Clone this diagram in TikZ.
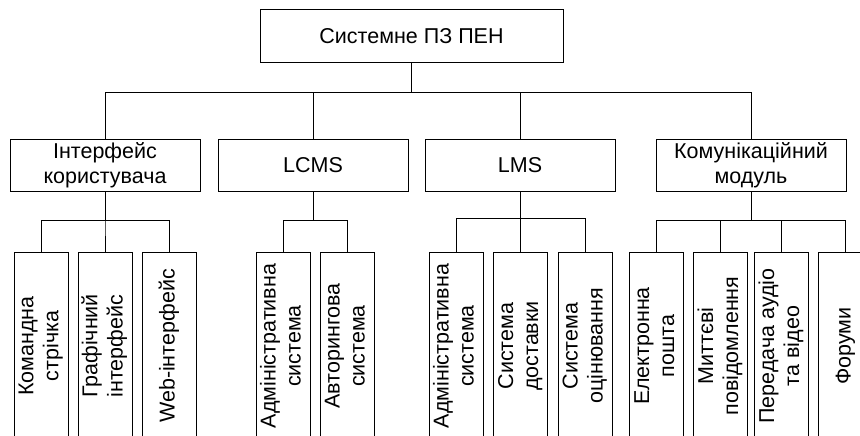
\documentclass[tikz,border=0pt]{standalone}
\usepackage{fontspec}
\setmainfont{Liberation Sans}
\usepackage{graphicx}

\newcommand{\vlabel}[1]{\rotatebox{90}{\begin{tabular}{@{}c@{}}#1\end{tabular}}}

\begin{document}
\begin{tikzpicture}[
    x=1pt, y=-1pt,
    line width=1pt,
    every node/.style={font=\fontsize{21.5}{25}\selectfont},
    rootbox/.style={rectangle, draw, minimum width=303pt, minimum height=53pt, inner sep=0pt},
    groupbox/.style={rectangle, draw, minimum width=190pt, minimum height=52pt, inner sep=0pt, align=center},
    leafbox/.style={rectangle, draw, minimum width=54pt, minimum height=188pt, inner sep=0pt},
    link/.style={line width=1pt}
]
\useasboundingbox (0,0) rectangle (860,436);
\clip (0,0) rectangle (860,436);

% Root
\node[rootbox] (root) at (411.5,36.5) {Системне ПЗ ПЕН};

% Second level
\node[groupbox] (ui) at (105,165) {Інтерфейс\\користувача};
\node[groupbox] (lcms) at (313,165) {LCMS};
\node[groupbox] (lms) at (520,165) {LMS};
\node[groupbox] (comm) at (751,165) {Комунікаційний\\модуль};

% Leaves of the user interface
\node[leafbox] (ui1) at (41,346) {\vlabel{Командна\\стрічка}};
\node[leafbox] (ui2) at (105,346) {\vlabel{Графічний\\інтерфейс}};
\node[leafbox] (ui3) at (169.5,346) {\vlabel{Web-інтерфейс}};

% Leaves of LCMS
\node[leafbox] (lcms1) at (283,346) {\vlabel{Адміністративна\\система}};
\node[leafbox] (lcms2) at (347,346) {\vlabel{Авторингова\\система}};

% Leaves of LMS
\node[leafbox] (lms1) at (456,346) {\vlabel{Адміністративна\\система}};
\node[leafbox] (lms2) at (520.5,346) {\vlabel{Система\\доставки}};
\node[leafbox] (lms3) at (585,346) {\vlabel{Система\\оцінювання}};

% Leaves of the communication module
\node[leafbox] (comm1) at (656.5,346) {\vlabel{Електронна\\пошта}};
\node[leafbox] (comm2) at (720.5,346) {\vlabel{Миттєві\\повідомлення}};
\node[leafbox] (comm3) at (781.5,346) {\vlabel{Передача аудіо\\та відео}};
\node[leafbox] (comm4) at (845.5,346) {\vlabel{Форуми}};

% Links from the root
\draw[link] (root.south) -- ++(0,29) -| (ui.north);
\draw[link] (root.south) -- ++(0,29) -| (lcms.north);
\draw[link] (root.south) -- ++(0,29) -| (lms.north);
\draw[link] (root.south) -- ++(0,29) -| (comm.north);

% Links to the leaves
\draw[link] (ui.south) -- ++(0,29) -| (ui1.north);
\draw[link] (ui.south) -- ++(0,29) -| (ui2.north);
\draw[link] (ui.south) -- ++(0,29) -| (ui3.north);
\draw[link] (lcms.south) -- ++(0,29) -| (lcms1.north);
\draw[link] (lcms.south) -- ++(0,29) -| (lcms2.north);
\draw[link] (lms.south) -- ++(0,27) -| (lms1.north);
\draw[link] (lms.south) -- ++(0,27) -| (lms2.north);
\draw[link] (lms.south) -- ++(0,27) -| (lms3.north);
\draw[link] (comm.south) -- ++(0,29) -| (comm1.north);
\draw[link] (comm.south) -- ++(0,29) -| (comm2.north);
\draw[link] (comm.south) -- ++(0,29) -| (comm3.north);
\draw[link] (comm.south) -- ++(0,29) -| (comm4.north);

\end{tikzpicture}
\end{document}
